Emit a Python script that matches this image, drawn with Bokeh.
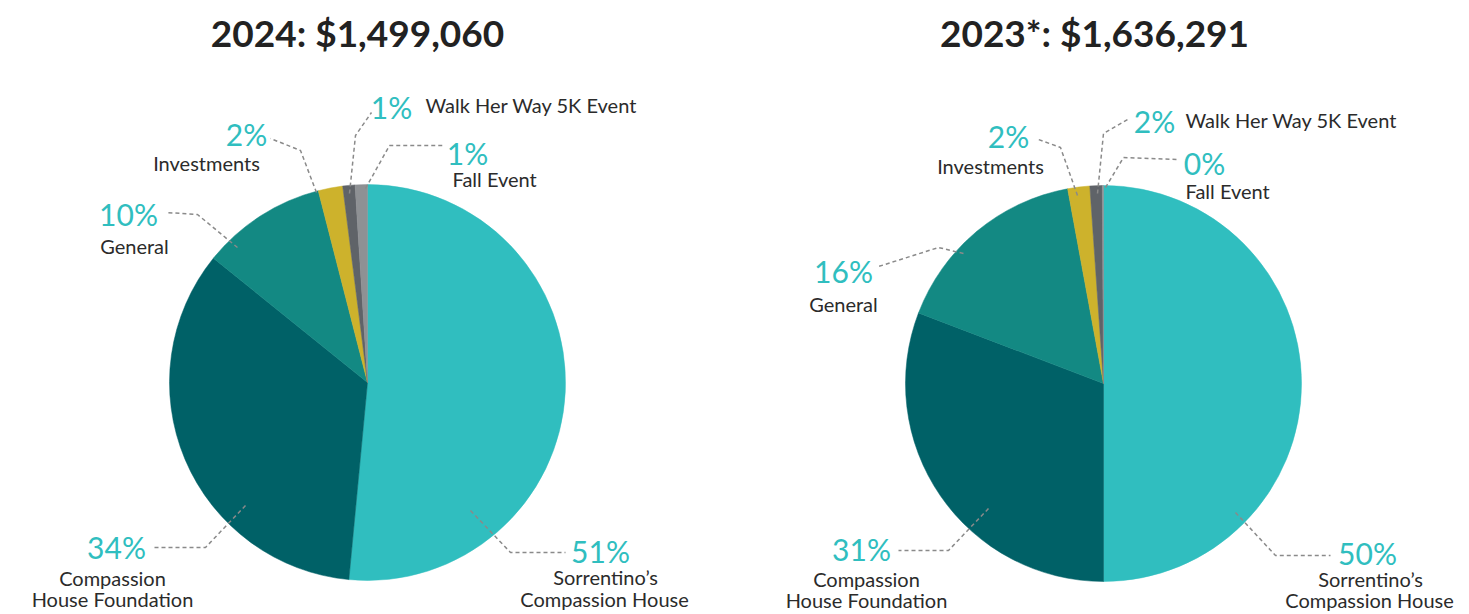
import numpy as np
from bokeh.plotting import figure
from bokeh.models import Range1d, ColumnDataSource
from bokeh.embed import file_html
from bokeh.resources import INLINE
from bokeh.core.properties import value

# ---------------- data ----------------
categories = ["Sorrentino’s Compassion House", "Compassion House Foundation",
              "General", "Investments", "Walk Her Way 5K Event", "Fall Event"]
category_lines = [["Sorrentino’s", "Compassion House"], ["Compassion", "House Foundation"],
                  ["General"], ["Investments"], ["Walk Her Way 5K Event"], ["Fall Event"]]
share_2024 = [51.5, 34.3, 10.2, 2.0, 1.0, 1.0]
share_2023 = [50.0, 30.8, 16.3, 1.8, 1.0, 0.1]
pct_labels_2024 = ["51%", "34%", "10%", "2%", "1%", "1%"]
pct_labels_2023 = ["50%", "31%", "16%", "2%", "2%", "0%"]
title_2024 = "2024: $1,499,060"
title_2023 = "2023*: $1,636,291"

# ---------------- style / layout ----------------
W, H = 1469, 614
colors = ["#30BEBF", "#006167", "#138983", "#CDB22C", "#5F6368", "#8E9194"]
FONT = "Lato"
TEAL = "#30BEBF"
DARK = "#2b2b2b"
LEADER = "#8a8a8a"

pies = [
    dict(cx=367, cy=382, r=198, shares=share_2024, pcts=pct_labels_2024,
         title=title_2024, title_xy=(357, 32),
         pct_xy=[(600, 550), (116, 546), (128, 213), (246, 133), (391, 106), (467, 152)],
         pct_align=["center"] * 6,
         cat_xy=[[(605, 576), (604, 598)], [(112, 577), (112, 598)], [(134, 245)],
                 [(206, 162)], [(425, 104)], [(452, 178)]],
         cat_align=["center", "center", "center", "center", "left", "left"],
         leaders=[[(470, 510), (510, 552), (565, 552)],
                  [(245, 505), (205, 547), (152, 547)],
                  [(237, 247), (197, 214), (165, 212)],
                  [(316, 192), (300, 150), (270, 138)],
                  [(349, 193), (355, 135), (371, 112)],
                  [(365, 188), (389, 145), (442, 145)]]),
    dict(cx=1103, cy=383, r=198, shares=share_2023, pcts=pct_labels_2023,
         title=title_2023, title_xy=(1094, 32),
         pct_xy=[(1367, 552), (861, 548), (843, 270), (1008, 135), (1154, 120), (1204, 162)],
         pct_align=["center"] * 6,
         cat_xy=[[(1370, 578), (1369, 599)], [(866, 578), (866, 599)], [(843, 303)],
                 [(990, 165)], [(1185, 119)], [(1185, 190)]],
         cat_align=["center", "center", "center", "center", "left", "left"],
         leaders=[[(1235, 512), (1275, 555), (1330, 555)],
                  [(988, 508), (948, 550), (898, 550)],
                  [(963, 253), (938, 247), (878, 266)],
                  [(1077, 195), (1060, 147), (1038, 139)],
                  [(1097, 193), (1103, 133), (1127, 119)],
                  [(1105, 187), (1123, 157), (1177, 159)]]),
]

p = figure(width=W, height=H, x_range=Range1d(0, W), y_range=Range1d(0, H),
           output_backend="svg", toolbar_location=None, min_border=0,
           background_fill_color="white", border_fill_color="white")
p.axis.visible = False
p.grid.visible = False
p.outline_line_color = None


def Y(y):
    return H - y


for pie in pies:
    s = np.array(pie["shares"], dtype=float)
    frac = s / s.sum()
    cum = np.cumsum(frac)
    start = np.pi / 2 - 2 * np.pi * np.concatenate([[0], cum[:-1]])
    end = np.pi / 2 - 2 * np.pi * cum
    src = ColumnDataSource(dict(start=start, end=end, color=colors,
                                cat=categories, share=pie["shares"]))
    p.wedge(x=pie["cx"], y=Y(pie["cy"]), radius=pie["r"], start_angle="start",
            end_angle="end", direction="clock", fill_color="color",
            line_color="color", line_width=0.5, source=src)

    for pts in pie["leaders"]:
        p.line([q[0] for q in pts], [Y(q[1]) for q in pts], line_color=LEADER,
               line_width=1.5, line_dash="4 3")

    p.text(x=[pie["title_xy"][0]], y=[Y(pie["title_xy"][1])], text=[pie["title"]],
           text_font=value(FONT), text_font_style="bold", text_font_size="37px",
           text_color="#222222", text_align="center", text_baseline="middle")

    for i in range(len(categories)):
        px, py = pie["pct_xy"][i]
        p.text(x=[px], y=[Y(py)], text=[pie["pcts"][i]], text_font=value(FONT),
               text_font_size="30px", text_color=TEAL, text_align=pie["pct_align"][i],
               text_baseline="middle")
        for line_txt, (lx, ly) in zip(category_lines[i], pie["cat_xy"][i]):
            p.text(x=[lx], y=[Y(ly)], text=[line_txt], text_font=value(FONT),
                   text_font_size="20px", text_color=DARK, text_align=pie["cat_align"][i],
                   text_baseline="middle")

open("out.html", "w").write(file_html(p, INLINE))
